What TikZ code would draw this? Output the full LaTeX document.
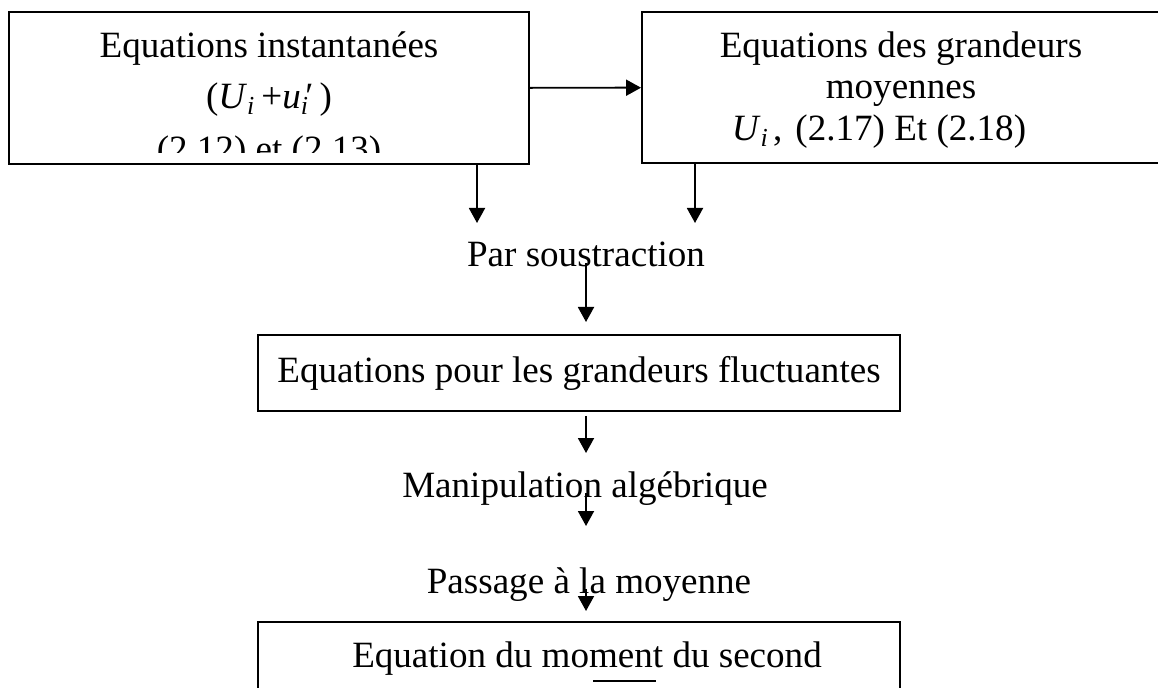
\documentclass[tikz,border=0pt]{standalone}
\usepackage{fontspec}
\setmainfont{Liberation Serif}
\usetikzlibrary{arrows.meta}

\newcommand{\idx}[1]{\textit{#1}\textsubscript{\textit{i}}}

\begin{document}
\begin{tikzpicture}[x=0.02cm,y=-0.02cm,->,>={Triangle[length=0.3cm,width=0.32cm]},line width=1.1pt]
  \def\w{0.02cm}

\tikzstyle{box}=[draw,rectangle,line width=1.1pt,inner sep=0pt,font=\fontsize{21.1}{25}\selectfont]
\tikzstyle{lbl}=[anchor=base,inner sep=0pt,font=\fontsize{21.1}{25}\selectfont]

\path[use as bounding box,clip] (0,0) rectangle (1158,688);

% top row
\node[box,minimum width=520*\w,minimum height=152*\w] (inst) at (269,88) {};
\node[box,minimum width=518*\w,minimum height=151*\w] (moy) at (901,87.5) {};
\draw (inst) -- (moy);

\begin{scope}
\clip (9,12) rectangle (529,153);
\node[lbl] (inst1) at (269,58) {Equations instantanées};
\node[lbl] (inst2) at (269,109) {(\idx{U}\,+\idx{u}\kern-0.1em′\,)};
\node[lbl] (inst3) at (269,162) {(2.12) et (2.13)};
\end{scope}

\node[lbl] (moy1) at (901,58) {Equations des grandeurs};
\node[lbl] (moy2) at (901,99) {moyennes};
\node[lbl] (moy3) at (879,141) {\idx{U}\hspace{0.12em},\hspace{0.1em} (2.17) Et (2.18)};

\coordinate (a1) at (477,223);
\coordinate (a2) at (695,223);
\draw (inst.south -| a1) -- (a1);
\draw (moy.south -| a2) -- (a2);

% middle
\node[lbl] (sous) at (586,267) {Par soustraction};
\coordinate (a3) at (586,322);
\draw (sous.base) ++(0,-4) -- (a3);

\node[box,minimum width=642*\w,minimum height=76*\w] (fluc) at (579,373) {Equations pour les grandeurs fluctuantes};
\coordinate (a4) at (586,453);
\draw (fluc.south -| a4) ++(0,4) -- (a4);

\node[lbl] (alg) at (585,497) {Manipulation algébrique};
\coordinate (a5) at (586,526);
\draw (alg.base -| a5) ++(0,-4) -- (a5);

\node[lbl] (pass) at (589,593) {Passage à la moyenne};
\coordinate (a6) at (586,611);
\draw (pass.base -| a6) ++(0,-4) -- (a6);

% bottom
\node[box,minimum width=642*\w,minimum height=140*\w,anchor=north] (mom) at (579,621) {};
\node[lbl] (mom1) at (587,667) {Equation du moment du second};
\draw[-] (593,681) -- (656,681);
\end{tikzpicture}
\end{document}
